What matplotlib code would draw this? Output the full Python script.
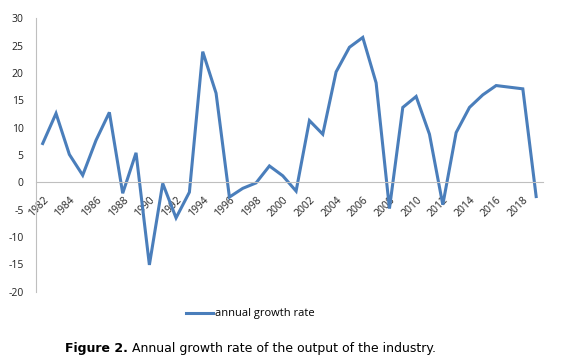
import numpy as np
import matplotlib
matplotlib.use("Agg")
import matplotlib.pyplot as plt

# Values
years = list(range(1982, 2020))
growth = [7.1, 12.6, 5.1, 1.3, 7.7, 12.8, -2.0, 5.4, -15.1, -0.2,
          -6.5, -1.8, 23.9, 16.3, -2.7, -1.1, -0.1, 3.0, 1.2, -1.6,
          11.3, 8.8, 20.2, 24.7, 26.5, 18.2, -4.8, 13.7, 15.7, 8.8,
          -4.1, 9.1, 13.7, 16.0, 17.7, 17.4, 17.1, -2.6]
tick_years = list(range(1982, 2019, 2))
y_ticks = [-20, -15, -10, -5, 0, 5, 10, 15, 20, 25, 30]

LINE_COLOR = "#4a7ebb"
AXIS_COLOR = "#bfbfbf"

plt.rcParams["font.family"] = ["Open Sans", "DejaVu Sans"]

fig = plt.figure(figsize=(5.69, 3.63), dpi=100)
ax = fig.add_axes([0.0633, 0.1964, 0.954 - 0.0633, 0.9496 - 0.1964])

line, = ax.plot(years, growth, color=LINE_COLOR, linewidth=2.2,
                solid_joinstyle="miter", label="annual growth rate")

# spine placement first: set_position resets the tick objects
for side in ["top", "right"]:
    ax.spines[side].set_visible(False)
ax.spines["left"].set_color(AXIS_COLOR)
ax.spines["left"].set_linewidth(0.8)
ax.spines["bottom"].set_position(("data", 0))
ax.spines["bottom"].set_color(AXIS_COLOR)
ax.spines["bottom"].set_linewidth(0.8)

ax.set_xlim(1981.5, 2019.5)
ax.set_ylim(-20, 30)
ax.set_yticks(y_ticks)
ax.set_yticklabels([str(v) for v in y_ticks], fontsize=7.5, color="#222222")
ax.set_xticks(tick_years)
ax.set_xticklabels([str(y) for y in tick_years], rotation=45, ha="right",
                   va="top", rotation_mode="anchor", fontsize=7.5, color="#222222")
ax.tick_params(axis="x", length=0, pad=8.5)
ax.tick_params(axis="y", length=0, pad=9)

fig.legend(handles=[line], loc="center", bbox_to_anchor=(0.44, 0.135),
           frameon=False, fontsize=8, handlelength=2.4, handletextpad=0.2)

# caption: bold lead-in plus plain text, centred together
cap_y = 0.04
t1 = fig.text(0, cap_y, "Figure 2.", fontsize=9, fontweight="bold",
              ha="left", va="center", family="DejaVu Sans")
t2 = fig.text(0, cap_y, " Annual growth rate of the output of the industry.",
              fontsize=9, ha="left", va="center", family="DejaVu Sans")
r = fig.canvas.get_renderer()
w1 = t1.get_window_extent(r).width / fig.bbox.width
w2 = t2.get_window_extent(r).width / fig.bbox.width
x0 = 0.44 - (w1 + w2) / 2
t1.set_x(x0)
t2.set_x(x0 + w1)

fig.savefig("out.png", dpi=100)
